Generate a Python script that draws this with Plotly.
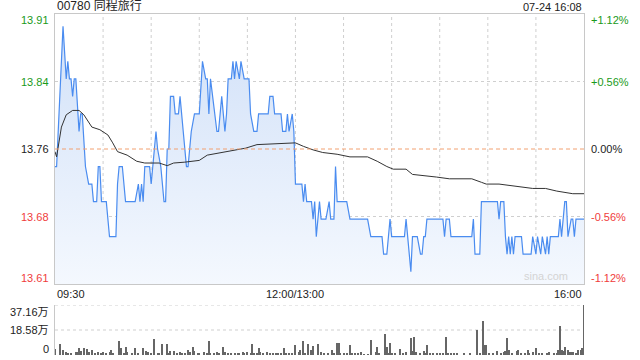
import plotly.graph_objects as go

# ---------------- data ----------------
title_text = "00780 同程旅行"
date_text = "07-24 16:08"
prev_close = 13.76
price_min, price_max = 13.606, 13.914
left_labels = ["13.91", "13.84", "13.76", "13.68", "13.61"]
right_labels = ["+1.12%", "+0.56%", "0.00%", "-0.56%", "-1.12%"]
label_levels = [13.914, 13.837, 13.76, 13.683, 13.606]
x_tick_labels = ["09:30", "12:00/13:00", "16:00"]
x_tick_minutes = [0, 150, 330]
vol_labels = ["37.16万", "18.58万", "0"]
vol_levels = [37.16, 18.58, 0]

price_minutes = [0, 1, 5, 7, 8, 9, 10, 11, 12, 13, 15, 16, 17, 19, 21, 23, 24, 26, 27, 28, 29, 32, 34, 38,
                 39, 40, 42, 44, 50, 52, 53, 54, 55, 56, 59, 60, 63, 64, 66, 68, 69, 70, 71, 72, 74, 75,
                 77, 78, 80, 82, 83, 85, 87, 90, 92, 94, 95, 96, 97, 101, 102, 103, 104, 106, 107, 108,
                 110, 111, 112, 113, 115, 116, 118, 121, 122, 124, 126, 127, 133, 134, 136, 137, 141,
                 142, 144, 145, 146, 148, 149, 150,
                 154, 155, 156, 157, 160, 161, 162, 163, 165, 166, 169, 171, 172, 174, 175, 176, 182,
                 184, 195, 197, 204, 205, 207, 209, 210, 218, 219, 220, 222, 223, 226, 228, 229, 230,
                 231, 232, 242, 243, 244, 246, 247, 260, 261, 262, 265, 266, 276, 277, 278, 280, 281,
                 282, 283, 284, 285, 286, 287, 291, 292, 297, 298, 300, 301, 303, 304, 306, 307, 308,
                 309, 314, 315, 316, 318, 319, 320, 322, 323, 324, 325, 329, 330]
price_values = [13.74, 13.74, 13.90, 13.84, 13.86, 13.84, 13.84, 13.82, 13.84, 13.84, 13.78, 13.80, 13.80,
                13.74, 13.72, 13.72, 13.70, 13.70, 13.74, 13.74, 13.70, 13.70, 13.66, 13.66,
                13.72, 13.74, 13.74, 13.70, 13.70, 13.72, 13.70, 13.72, 13.70, 13.74, 13.74, 13.72,
                13.78, 13.76, 13.74, 13.70, 13.70, 13.76, 13.76, 13.82, 13.82, 13.80,
                13.80, 13.82, 13.78, 13.74, 13.74, 13.78, 13.80, 13.80, 13.86, 13.84, 13.84, 13.80,
                13.84, 13.78, 13.78, 13.80, 13.82, 13.78, 13.80, 13.84,
                13.84, 13.86, 13.84, 13.86, 13.84, 13.86, 13.84, 13.84, 13.80, 13.78, 13.78, 13.80,
                13.80, 13.82, 13.82, 13.80, 13.80,
                13.78, 13.78, 13.80, 13.78, 13.80, 13.78, 13.72,
                13.72, 13.70, 13.72, 13.70, 13.70, 13.68, 13.70, 13.66, 13.70, 13.68, 13.68, 13.70,
                13.68, 13.68, 13.74, 13.70, 13.70,
                13.68, 13.68, 13.66, 13.66, 13.64, 13.64, 13.68, 13.66, 13.66, 13.68, 13.66, 13.62,
                13.66, 13.66, 13.64, 13.64, 13.66,
                13.66, 13.68, 13.68, 13.66, 13.68, 13.68, 13.66, 13.66, 13.68, 13.64, 13.64, 13.70,
                13.70, 13.68, 13.70, 13.70, 13.66,
                13.64, 13.66, 13.64, 13.66, 13.64, 13.66, 13.66, 13.64, 13.64, 13.66, 13.64, 13.66,
                13.64, 13.66, 13.64, 13.66, 13.64,
                13.66, 13.66, 13.68, 13.66, 13.70, 13.70, 13.66, 13.68, 13.68, 13.66, 13.68, 13.68, 13.68]

avg_minutes = [0, 1, 4, 7, 11, 15, 18, 23, 28, 33, 36, 39, 45, 51, 56, 65, 70, 74, 81, 90, 95, 105, 119,
               126, 136, 146, 150, 155, 161, 167, 176, 184, 195, 201, 207, 211, 219, 223, 229, 238,
               246, 260, 266, 269, 277, 285, 298, 306, 313, 323, 330]
avg_values = [13.757, 13.751, 13.785, 13.799, 13.804, 13.804, 13.799, 13.785, 13.782, 13.776, 13.767,
              13.757, 13.753, 13.746, 13.744, 13.744, 13.741, 13.744, 13.745, 13.747, 13.753, 13.756,
              13.761, 13.765, 13.766, 13.767, 13.767, 13.763, 13.759, 13.756, 13.754, 13.751, 13.751,
              13.746, 13.740, 13.737, 13.737, 13.731, 13.730, 13.728, 13.726, 13.726, 13.722, 13.720,
              13.720, 13.718, 13.715, 13.715, 13.712, 13.709, 13.709]

vol_minutes = [0, 3, 5, 7, 8, 10, 13, 14, 15, 16, 18, 20, 21, 23, 25, 27, 29, 30, 32, 34, 35, 36, 40, 41,
               43, 44, 45, 48, 50, 52, 55, 57, 58, 60, 62, 64, 65, 67, 70, 71, 72, 74, 76, 78, 79, 81,
               83, 84, 86, 87, 89, 90, 93, 95, 96, 97, 99, 101, 102, 105, 106, 108, 110, 112, 114, 115,
               117, 118, 120, 122, 123, 124, 126, 127, 128, 130, 132, 134, 136, 138, 139, 141, 143,
               144, 146, 148, 150,
               152, 153, 155, 156, 158, 160, 161, 164, 166, 168, 170, 173, 174, 176, 177, 178, 180,
               182, 184, 185, 187, 189, 191, 193, 195, 197, 200, 201, 202, 206, 207, 208, 209, 210,
               212, 215, 217, 219, 222, 223, 224, 225, 228, 230, 231, 232, 234, 236, 238, 240, 242,
               244, 245, 247, 249, 251, 255, 259, 263, 265, 267, 268, 269, 271, 273, 276, 278, 280,
               281, 282, 283, 285, 288, 289, 291, 293, 295, 296, 298, 300, 302, 304, 307, 308, 311,
               313, 314, 315, 316, 317, 318, 320, 321, 322, 323, 325, 326, 328, 329, 330]
vol_values = [4.2, 8.2, 3.7, 2.0, 1.7, 1.2, 2.5, 2.0, 5.0, 3.2, 5.0, 4.2, 2.5, 3.7, 1.7, 2.0, 1.7, 2.0,
              1.7, 2.5, 3.7, 1.2, 10.7, 5.4,
              1.2, 6.2, 2.5, 1.7, 5.0, 1.2, 5.4, 3.0, 2.0, 1.2, 11.6, 1.7, 1.2, 7.9, 8.2, 1.7, 3.0,
              3.0, 1.2, 2.0, 1.2, 1.7,
              3.7, 2.5, 6.2, 3.0, 1.7, 1.2, 2.0, 1.7, 10.4, 1.7, 1.7, 2.5, 1.2, 6.2, 2.5, 1.2, 1.7,
              1.2, 1.7, 1.2,
              2.0, 1.7, 2.5, 1.7, 7.9, 1.7, 1.2, 5.0, 2.0, 1.7, 2.0, 1.2, 1.7, 1.2, 1.7, 1.2, 5.0,
              1.7, 1.2, 1.7, 7.4,
              2.5, 3.7, 10.7, 1.7, 7.9, 3.7, 6.9, 8.2, 2.0, 1.2, 1.2, 3.7, 1.2, 9.2, 9.2, 1.2, 1.2,
              1.7, 7.4, 1.2, 1.2, 1.2, 2.0, 0.7, 0.5, 11.1, 2.0, 5.7, 1.7, 15.6, 6.2, 1.7, 9.2, 1.7,
              1.2, 4.5, 1.2, 2.5, 12.4, 3.2, 13.4, 2.0, 1.2, 3.0, 1.2, 7.4, 1.2, 1.2, 1.7, 1.2, 1.2,
              13.4, 1.2, 1.7, 1.2, 1.2, 1.7, 1.2, 18.6, 1.7, 25.3, 7.4, 7.4, 1.2, 1.2, 3.0, 1.2, 2.5,
              3.2, 12.9, 3.7, 1.2, 3.0, 3.7, 1.2, 1.7, 3.7, 1.2, 2.0, 5.4, 1.2, 1.7, 1.2, 2.5, 1.2,
              1.7, 3.7, 21.6, 3.7, 3.0, 6.2, 3.7, 2.0, 2.5, 2.5, 1.2, 3.7, 3.7, 5.0, 37.16]

grid_minutes = [30, 60, 90, 120, 150, 180, 210, 240, 270, 300]
grid_levels = [13.837, 13.683]

# ---------------- styles ----------------
FONT = "Liberation Sans, Arial, Noto Sans CJK SC, sans-serif"
GREEN = "#1a9a1a"
RED = "#f03c3c"
BLACK = "#222222"
FRAME = "#c8c8c8"
GRID = "#cfcfcf"
label_colors = [GREEN, GREEN, BLACK, RED, RED]

fig = go.Figure()

fig.add_trace(go.Scatter(
    x=price_minutes, y=price_values, mode="lines",
    line=dict(color="#4a8cf0", width=1.2),
    fill="tozeroy",
    fillgradient=dict(type="vertical", start=price_min, stop=price_max,
                      colorscale=[[0, "rgba(244,248,254,1)"], [1, "rgba(208,224,248,1)"]]),
    hoverinfo="skip", xaxis="x", yaxis="y"))

fig.add_trace(go.Scatter(
    x=avg_minutes, y=avg_values, mode="lines",
    line=dict(color="#333333", width=1),
    hoverinfo="skip", xaxis="x", yaxis="y"))

fig.add_trace(go.Bar(
    x=vol_minutes, y=vol_values, width=0.62,
    marker=dict(color="#666666", line=dict(width=0)),
    hoverinfo="skip", xaxis="x2", yaxis="y2"))

shapes = []
for gm in grid_minutes:
    shapes.append(dict(type="line", xref="x", yref="y", x0=gm, x1=gm, y0=price_min, y1=price_max,
                       line=dict(color=GRID, width=1, dash="dot"), layer="below"))
for gl in grid_levels:
    shapes.append(dict(type="line", xref="x", yref="y", x0=0, x1=330, y0=gl, y1=gl,
                       line=dict(color=GRID, width=1, dash="dot"), layer="below"))
shapes.append(dict(type="line", xref="x", yref="y", x0=0, x1=330, y0=prev_close, y1=prev_close,
                   line=dict(color="#f2a070", width=1, dash="4px,3px")))
for vl in vol_levels[:2]:
    shapes.append(dict(type="line", xref="x2", yref="y2", x0=0, x1=330, y0=vl, y1=vl,
                       line=dict(color=GRID, width=1, dash="dot"), layer="below"))

annotations = []
shifts = [-6, 0, 0, 0, 6]
for lab, lvl, col, sh in zip(left_labels, label_levels, label_colors, shifts):
    annotations.append(dict(text=lab, xref="paper", yref="y", x=0, y=lvl, xanchor="right",
                            yanchor="middle", xshift=-4, yshift=sh, showarrow=False,
                            font=dict(family=FONT, size=11, color=col)))
for lab, lvl, col, sh in zip(right_labels, label_levels, label_colors, shifts):
    annotations.append(dict(text=lab, xref="paper", yref="y", x=1, y=lvl, xanchor="left",
                            yanchor="middle", xshift=5, yshift=sh, showarrow=False,
                            font=dict(family=FONT, size=11, color=col)))
vshifts = [-7, 0, 6]
for lab, lvl, sh in zip(vol_labels, vol_levels, vshifts):
    annotations.append(dict(text=lab, xref="paper", yref="y2", x=0, y=lvl, xanchor="right",
                            yanchor="middle", xshift=-4, yshift=sh, showarrow=False,
                            font=dict(family=FONT, size=11, color=BLACK)))
anchors = ["left", "center", "right"]
for lab, m, anc in zip(x_tick_labels, x_tick_minutes, anchors):
    annotations.append(dict(text=lab, xref="x", yref="y", x=m, y=price_min, xanchor=anc,
                            yanchor="top", yshift=-2, showarrow=False,
                            font=dict(family=FONT, size=11, color=BLACK)))
annotations.append(dict(text=title_text, xref="paper", yref="paper", x=0, y=1, xanchor="left",
                        yanchor="bottom", yshift=-1, showarrow=False,
                        font=dict(family=FONT, size=12, color=BLACK)))
annotations.append(dict(text=date_text, xref="paper", yref="paper", x=1, y=1, xanchor="right",
                        yanchor="bottom", yshift=-1, showarrow=False,
                        font=dict(family=FONT, size=11, color=BLACK)))
annotations.append(dict(text="sina.com", xref="x", yref="y", x=321, y=price_min, xanchor="right",
                        yanchor="bottom", yshift=0, showarrow=False,
                        font=dict(family=FONT, size=11, color="#d4d4d4")))

fig.update_layout(
    width=640, height=360,
    margin=dict(l=55, r=56, t=14, b=5),
    paper_bgcolor="white", plot_bgcolor="rgba(0,0,0,0)",
    showlegend=False, bargap=0,
    shapes=shapes, annotations=annotations,
    xaxis=dict(domain=[0, 1], range=[0, 330], anchor="y", showgrid=False, zeroline=False,
               showticklabels=False, ticks="", showline=True, mirror=True, linecolor=FRAME,
               linewidth=1),
    yaxis=dict(domain=[0.2082, 1], range=[price_min, price_max], anchor="x", showgrid=False,
               zeroline=False, showticklabels=False, ticks="", showline=True, mirror=True,
               linecolor=FRAME, linewidth=1),
    xaxis2=dict(domain=[0, 1], range=[0, 330], anchor="y2", showgrid=False, zeroline=False,
                showticklabels=False, ticks="", showline=False),
    yaxis2=dict(domain=[0, 0.1466], range=[0, 37.16], anchor="x2", showgrid=False, zeroline=False,
                showticklabels=False, ticks="", showline=True, linecolor=FRAME, linewidth=1),
)

fig.write_html("out.html")
